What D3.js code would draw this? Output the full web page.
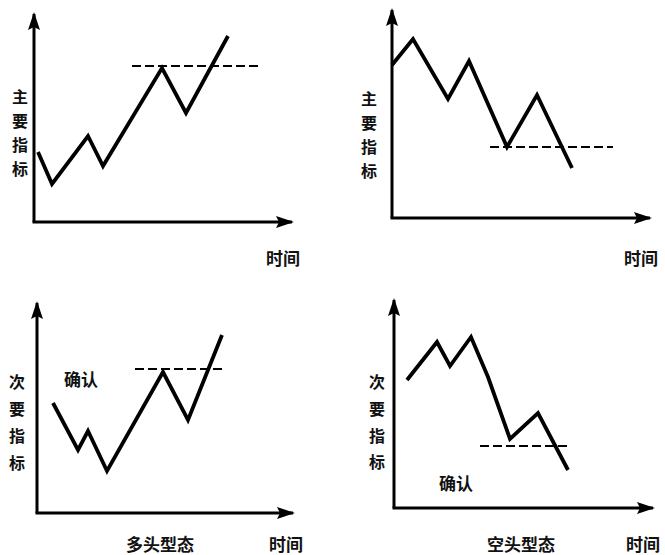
<!DOCTYPE html>
<html><head><meta charset="utf-8">
<script src="https://cdn.jsdelivr.net/npm/d3@7"></script>
<style>
html,body{margin:0;padding:0;background:#fff;}
svg{display:block;}
text{font-family:"Noto Sans CJK SC","Noto Sans",sans-serif;font-weight:bold;fill:#111;}
</style></head>
<body>
<script>
// ---- data (time units, indicator units) ----
const panelNames = ["主要-多头", "主要-空头", "次要-多头", "次要-空头"];
const p1x = [1.6, 7.2, 21.6, 27.6, 51.2, 60.8, 77.6];
const p1y = [35, 19, 43, 28, 77, 54.5, 93];
const p2x = [0, 8.4, 22.4, 30.8, 46, 58, 72];
const p2y = [76.5, 89.5, 59.5, 78.5, 35.5, 61.5, 25];
const p3x = [6.4, 16.4, 20.4, 28, 50.4, 60.4, 74];
const p3y = [55, 31.5, 41, 21, 70.5, 46.5, 89];
const p4x = [5.2, 17.2, 22.4, 30.8, 37.6, 46.4, 57.6, 69.6];
const p4y = [64, 83, 71, 85.5, 65.5, 34.5, 47.5, 19];
// confirmation (dashed) levels: [value, xStart, xEnd]
const levels = [[78, 39.2, 89.6], [35.5, 39.2, 88.4], [72, 39.2, 74], [31, 34.4, 70.4]];
const yTitles = ["主要指标", "主要指标", "次要指标", "次要指标"];
const xTitle = "时间";
const captions = ["", "", "多头型态", "空头型态"];
const confirmLabels = ["", "", "确认", "确认"];

// ---- layout ----
const layout = [
  {ox: 34, oy: 222, tipX: 292, tipY: 14, ytx: 20, yty: [96, 120, 144, 168], xtx: 283, xty: 257, cx: 0, cy: 0, capx: 0, capy: 0},
  {ox: 392, oy: 218, tipX: 650, tipY: 10, ytx: 369, yty: [98, 122, 146, 170], xtx: 641, xty: 257, cx: 0, cy: 0, capx: 0, capy: 0},
  {ox: 37, oy: 513, tipX: 293, tipY: 303, ytx: 17, yty: [381, 408, 435, 462], xtx: 286, xty: 543, cx: 81, cy: 378, capx: 160, capy: 543},
  {ox: 394, oy: 508, tipX: 653, tipY: 300, ytx: 377, yty: [381, 408, 435, 461], xtx: 643, xty: 543, cx: 456, cy: 482, capx: 521, capy: 543}
];
const series = [[p1x, p1y], [p2x, p2y], [p3x, p3y], [p4x, p4y]];

const W = 665, H = 555;
const svg = d3.select("body").append("svg").attr("width", W).attr("height", H);

const defs = svg.append("defs");
defs.append("marker").attr("id", "arr").attr("viewBox", "0 0 18 12")
  .attr("refX", 16).attr("refY", 6).attr("markerWidth", 18).attr("markerHeight", 12)
  .attr("markerUnits", "userSpaceOnUse").attr("orient", "auto")
  .append("path").attr("d", "M0,0 L18,6 L0,12 L3,6 Z").attr("fill", "#000");

layout.forEach((L, i) => {
  const x = d3.scaleLinear().domain([0, 100]).range([L.ox, L.ox + 250]);
  const y = d3.scaleLinear().domain([0, 100]).range([L.oy, L.oy - 200]);
  const g = svg.append("g");

  // axes
  g.append("line").attr("x1", x(0)).attr("y1", y(0)).attr("x2", x(0)).attr("y2", L.tipY)
    .attr("stroke", "#000").attr("stroke-width", 3).attr("marker-end", "url(#arr)");
  g.append("line").attr("x1", x(0) - 1.5).attr("y1", y(0)).attr("x2", L.tipX).attr("y2", y(0))
    .attr("stroke", "#000").attr("stroke-width", 3).attr("marker-end", "url(#arr)");

  // dashed level
  const lv = levels[i];
  g.append("line").attr("x1", x(lv[1])).attr("x2", x(lv[2])).attr("y1", y(lv[0])).attr("y2", y(lv[0]))
    .attr("stroke", "#000").attr("stroke-width", 2.2).attr("stroke-dasharray", "9,4");

  // indicator line
  const [xs, ys] = series[i];
  const pts = xs.map((v, k) => [v, ys[k]]);
  g.append("path").datum(pts)
    .attr("d", d3.line().x(d => x(d[0])).y(d => y(d[1])))
    .attr("fill", "none").attr("stroke", "#000").attr("stroke-width", 3.8)
    .attr("stroke-linejoin", "miter").attr("stroke-linecap", "butt");

  // y title (vertical characters)
  Array.from(yTitles[i]).forEach((ch, k) => {
    g.append("text").attr("x", L.ytx).attr("y", L.yty[k]).attr("text-anchor", "middle")
      .attr("dominant-baseline", "central").attr("font-size", 16).text(ch);
  });
  // x title
  g.append("text").attr("x", L.xtx).attr("y", L.xty).attr("text-anchor", "middle")
    .attr("dominant-baseline", "central").attr("font-size", 17).text(xTitle);
  if (confirmLabels[i]) {
    g.append("text").attr("x", L.cx).attr("y", L.cy).attr("text-anchor", "middle")
      .attr("dominant-baseline", "central").attr("font-size", 17).text(confirmLabels[i]);
  }
  if (captions[i]) {
    g.append("text").attr("x", L.capx).attr("y", L.capy).attr("text-anchor", "middle")
      .attr("dominant-baseline", "central").attr("font-size", 17).text(captions[i]);
  }
});
</script>
</body></html>
